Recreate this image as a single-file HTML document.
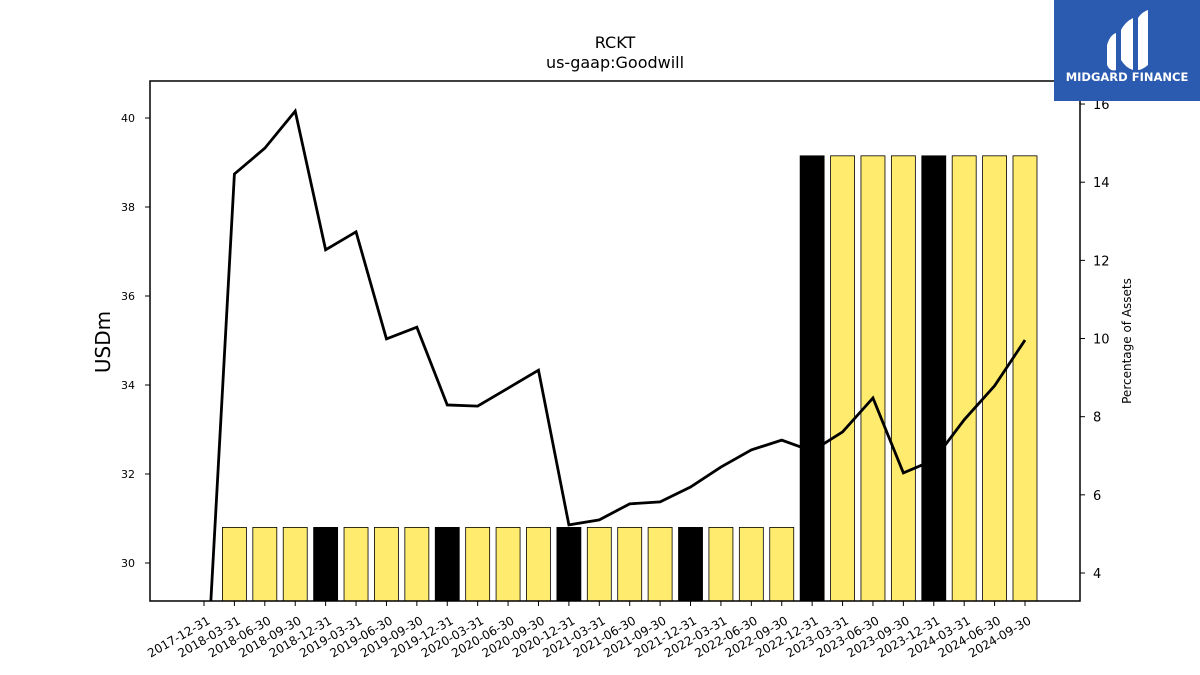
<!DOCTYPE html>
<html><head><meta charset="utf-8"><style>
html,body{margin:0;padding:0;background:#fff;width:1200px;height:675px;overflow:hidden;font-family:"Liberation Sans","DejaVu Sans",sans-serif}
svg{display:block}
</style></head><body>
<svg id="chart" width="1200" height="675" xmlns="http://www.w3.org/2000/svg" font-family="DejaVu Sans, Liberation Sans, sans-serif">
<text x="615" y="48" font-size="16" text-anchor="middle">RCKT</text>
<text x="615" y="68" font-size="16" text-anchor="middle">us-gaap:Goodwill</text>
<g id="bars"></g><g id="line"></g><g id="axes"></g>
<rect x="150" y="81" width="930" height="520" fill="none" stroke="#000" stroke-width="1.5"/>
<text transform="translate(110,342) rotate(-90)" font-size="20" text-anchor="middle">USDm</text>
<text transform="translate(1131,341) rotate(-90)" font-size="12" text-anchor="middle">Percentage of Assets</text>
<g>
<rect x="1054" y="0" width="146" height="101" fill="#2b5bb0"/>
<path d="M1107 45 Q1110 35 1116 33 L1116 70 Q1110 72 1107 65Z M1121 30 Q1125 22 1133 18 L1133 70 Q1126 68 1121 60Z M1138 18 Q1142 12 1148 10 L1148 65 Q1142 70 1138 70Z" fill="#fff"/>
<text x="1127" y="81" font-size="11.5" font-weight="bold" fill="#fff" text-anchor="middle">MIDGARD FINANCE</text>
</g>
</svg>
<script>
const categories=["2017-12-31","2018-03-31","2018-06-30","2018-09-30","2018-12-31","2019-03-31","2019-06-30","2019-09-30","2019-12-31","2020-03-31","2020-06-30","2020-09-30","2020-12-31","2021-03-31","2021-06-30","2021-09-30","2021-12-31","2022-03-31","2022-06-30","2022-09-30","2022-12-31","2023-03-31","2023-06-30","2023-09-30","2023-12-31","2024-03-31","2024-06-30","2024-09-30"];
const goodwill=[null,30.8,30.8,30.8,30.8,30.8,30.8,30.8,30.8,30.8,30.8,30.8,30.8,30.8,30.8,30.8,30.8,30.8,30.8,30.8,39.15,39.15,39.15,39.15,39.15,39.15,39.15,39.15];
const pctAssets=[0.1,14.21,14.87,15.82,12.27,12.73,9.99,10.29,8.30,8.27,8.73,9.19,5.23,5.36,5.77,5.82,6.20,6.71,7.15,7.40,7.12,7.61,8.48,6.56,6.89,7.92,8.79,9.96];
const leftTicks=[30,32,34,36,38,40];
const rightTicks=[4,6,8,10,12,14,16];
const NS="http://www.w3.org/2000/svg";
const xS=i=>204+i*(1025-204)/27;
const yL=v=>563-(v-30)*44.5;
const yR=v=>573-(v-4)*39.08;
const BOT=601;
function mk(t,a,p){const e=document.createElementNS(NS,t);for(const k in a)e.setAttribute(k,a[k]);p.appendChild(e);return e;}
const bars=document.getElementById('bars'),line=document.getElementById('line'),axes=document.getElementById('axes');
goodwill.forEach((v,i)=>{if(v==null)return;
 const q4=categories[i].endsWith('12-31');
 const r=mk('rect',{x:xS(i)-12,y:yL(v),width:24,height:BOT-yL(v),fill:q4?'#000':'#ffeb6e',stroke:'#000','stroke-width':0.8},bars);
 
 });
const cp=mk('clipPath',{id:'clip'},line);mk('rect',{x:150,y:81,width:930,height:520},cp);
const pl=mk('polyline',{points:pctAssets.map((v,i)=>xS(i)+','+yR(v)).join(' '),fill:'none',stroke:'#000','stroke-width':2.8,'clip-path':'url(#clip)'},line);


categories.forEach((c,i)=>{const x=xS(i);
 mk('line',{x1:x,x2:x,y1:BOT,y2:BOT+5,stroke:'#000'},axes);
 const t=mk('text',{transform:`translate(${x+7},${BOT+22}) rotate(-30)`,'font-size':12,'text-anchor':'end'},axes);t.textContent=c;
 
 });
leftTicks.forEach(v=>{const y=yL(v);
 mk('line',{x1:145,x2:150,y1:y,y2:y,stroke:'#000'},axes);
 const t=mk('text',{x:135,y:y+4,'font-size':11,'text-anchor':'end'},axes);t.textContent=v;
 
 });
rightTicks.forEach(v=>{const y=yR(v);
 mk('line',{x1:1080,x2:1085,y1:y,y2:y,stroke:'#000'},axes);
 const t=mk('text',{x:1093,y:y+5,'font-size':13},axes);t.textContent=v;
 
 });
</script>
</body></html>
